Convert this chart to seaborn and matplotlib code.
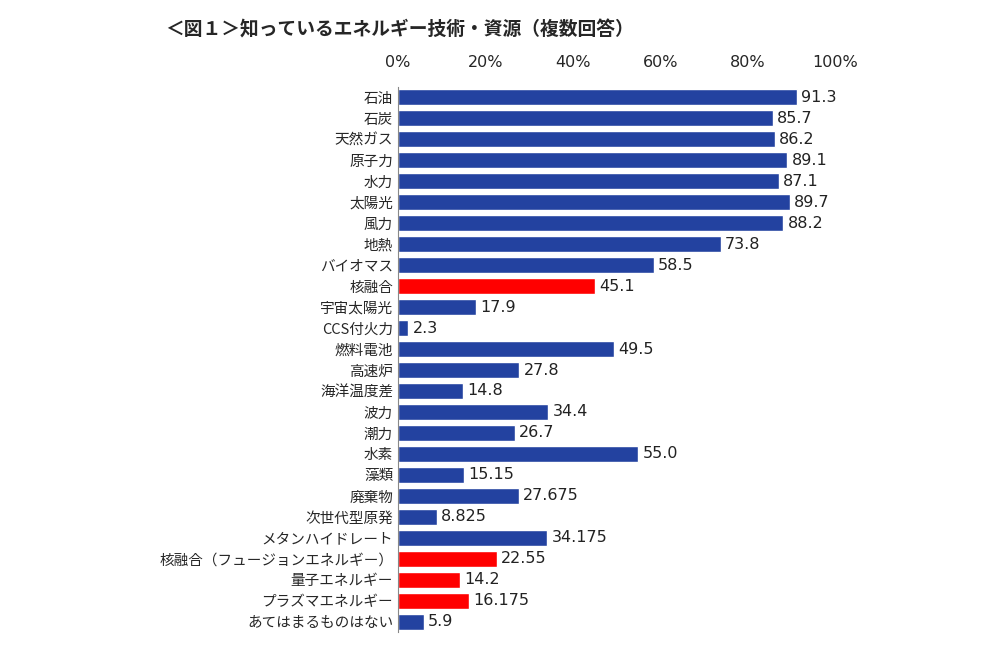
import matplotlib
matplotlib.use("Agg")
import matplotlib.pyplot as plt
import seaborn as sns
import pandas as pd

categories = ["石油", "石炭", "天然ガス", "原子力", "水力", "太陽光", "風力", "地熱",
              "バイオマス", "核融合", "宇宙太陽光", "CCS付火力", "燃料電池", "高速炉",
              "海洋温度差", "波力", "潮力", "水素", "藻類", "廃棄物", "次世代型原発",
              "メタンハイドレート", "核融合（フュージョンエネルギー）", "量子エネルギー",
              "プラズマエネルギー", "あてはまるものはない"]
values = [91.3, 85.7, 86.2, 89.1, 87.1, 89.7, 88.2, 73.8, 58.5, 45.1, 17.9, 2.3,
          49.5, 27.8, 14.8, 34.4, 26.7, 55.0, 15.15, 27.675, 8.825, 34.175,
          22.55, 14.2, 16.175, 5.9]
labels = ["91.3", "85.7", "86.2", "89.1", "87.1", "89.7", "88.2", "73.8", "58.5",
          "45.1", "17.9", "2.3", "49.5", "27.8", "14.8", "34.4", "26.7", "55.0",
          "15.15", "27.675", "8.825", "34.175", "22.55", "14.2", "16.175", "5.9"]
highlight = {"核融合", "核融合（フュージョンエネルギー）", "量子エネルギー", "プラズマエネルギー"}

df = pd.DataFrame({"cat": categories, "val": values})
palette = {c: ("#FF0000" if c in highlight else "#2342A0") for c in categories}

sns.set_style("white")
plt.rcParams["font.family"] = ["Noto Sans CJK JP", "DejaVu Sans"]

fig = plt.figure(figsize=(10, 6.67), dpi=100)
ax = fig.add_axes([0.398, 0.052, 0.437, 0.818])
sns.barplot(data=df, y="cat", x="val", hue="cat", palette=palette, legend=False,
            width=0.75, saturation=1, ax=ax, orient="h")

for i, (v, t) in enumerate(zip(values, labels)):
    ax.text(v + 1, i, t, va="center", ha="left", fontsize=11.5, color="#222222",
            family=["DejaVu Sans"])

ax.set_xlim(0, 100)
ax.set_ylim(len(categories) - 0.5, -0.5)
ax.xaxis.tick_top()
ax.set_xticks([0, 20, 40, 60, 80, 100])
ax.set_xticklabels([f"{t}%" for t in [0, 20, 40, 60, 80, 100]], fontsize=11.5,
                   family=["DejaVu Sans"])
ax.tick_params(axis="x", length=0, pad=12)
ax.tick_params(axis="y", length=0, labelsize=10.5)
ax.set_xlabel("")
ax.set_ylabel("")
for s in ["top", "right", "bottom"]:
    ax.spines[s].set_visible(False)
ax.spines["left"].set_color("#888888")

fig.text(0.165, 0.955, "＜図１＞知っているエネルギー技術・資源（複数回答）",
         fontsize=13.5, fontweight="bold", va="center")

fig.savefig("out.png", dpi=100)
